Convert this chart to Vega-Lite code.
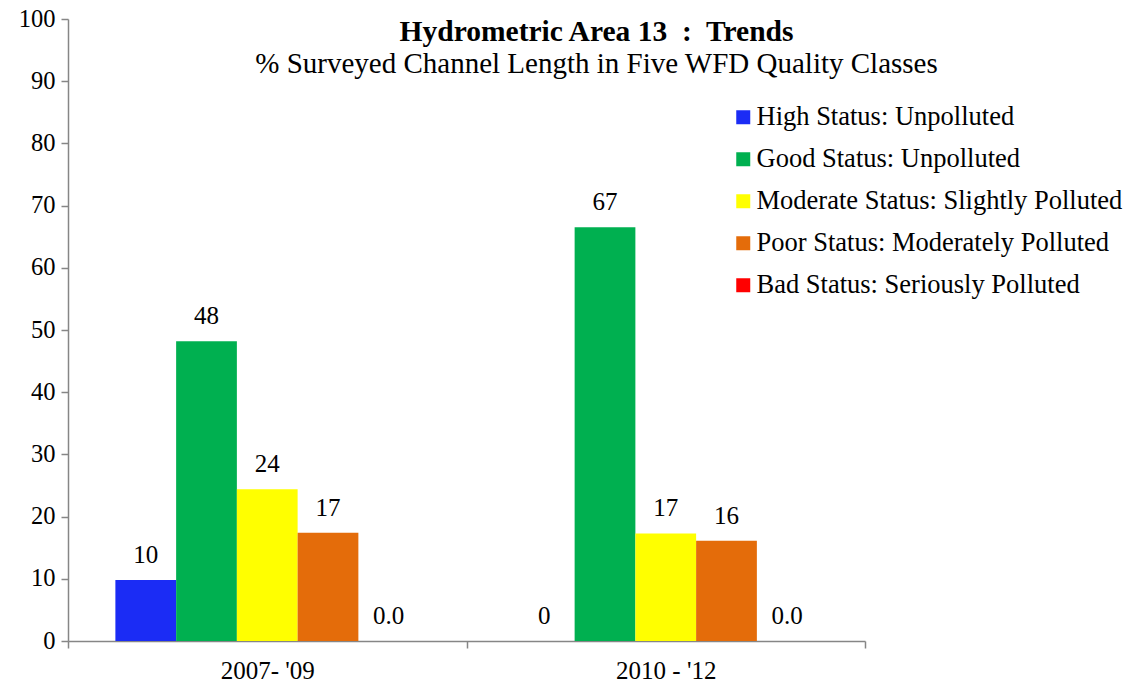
{
  "$schema": "https://vega.github.io/schema/vega-lite/v6.json",
  "width": 797,
  "height": 622,
  "autosize": {"type": "none"},
  "padding": {"left": 68, "top": 19, "right": 266, "bottom": 47},
  "background": "white",
  "config": {"view": {"stroke": null}, "font": "'Liberation Serif', 'Times New Roman', serif"},
  "title": {
    "text": "Hydrometric Area 13\u00a0 :\u00a0 Trends",
    "subtitle": "% Surveyed Channel Length in Five WFD Quality Classes",
    "font": "'Liberation Serif', 'Times New Roman', serif",
    "fontSize": 29.5,
    "fontWeight": "bold",
    "color": "black",
    "subtitleFont": "'Liberation Serif', 'Times New Roman', serif",
    "subtitleFontSize": 29,
    "subtitleColor": "black",
    "subtitlePadding": 3,
    "anchor": "middle",
    "frame": "group",
    "dx": 130,
    "offset": -74
  },
  "data": {
    "values": [
      {"period": "2007- '09", "status": "High Status: Unpolluted", "value": 9.8, "label": "10"},
      {"period": "2007- '09", "status": "Good Status: Unpolluted", "value": 48.2, "label": "48"},
      {"period": "2007- '09", "status": "Moderate Status: Slightly Polluted", "value": 24.4, "label": "24"},
      {"period": "2007- '09", "status": "Poor Status: Moderately Polluted", "value": 17.4, "label": "17"},
      {"period": "2007- '09", "status": "Bad Status: Seriously Polluted", "value": 0, "label": "0.0"},
      {"period": "2010 - '12", "status": "High Status: Unpolluted", "value": 0, "label": "0"},
      {"period": "2010 - '12", "status": "Good Status: Unpolluted", "value": 66.5, "label": "67"},
      {"period": "2010 - '12", "status": "Moderate Status: Slightly Polluted", "value": 17.3, "label": "17"},
      {"period": "2010 - '12", "status": "Poor Status: Moderately Polluted", "value": 16.1, "label": "16"},
      {"period": "2010 - '12", "status": "Bad Status: Seriously Polluted", "value": 0, "label": "0.0"}
    ]
  },
  "encoding": {
    "x": {
      "field": "period",
      "type": "nominal",
      "sort": null,
      "scale": {"paddingInner": 0, "paddingOuter": 0},
      "axis": {
        "title": null,
        "labelAngle": 0,
        "labelFont": "'Liberation Serif', 'Times New Roman', serif",
        "labelFontSize": 25,
        "labelColor": "black",
        "labelPadding": 10,
        "tickBand": "extent",
        "tickSize": 7,
        "tickColor": "#868686",
        "domainColor": "#868686",
        "domainWidth": 1.5,
        "tickWidth": 1.5
      }
    },
    "xOffset": {
      "field": "status",
      "type": "nominal",
      "sort": null,
      "scale": {"paddingInner": 0, "paddingOuter": 0.78}
    },
    "y": {
      "field": "value",
      "type": "quantitative",
      "scale": {"domain": [0, 100], "nice": false},
      "axis": {
        "title": null,
        "grid": false,
        "values": [0, 10, 20, 30, 40, 50, 60, 70, 80, 90, 100],
        "labelFont": "'Liberation Serif', 'Times New Roman', serif",
        "labelFontSize": 24.5,
        "labelColor": "black",
        "labelPadding": 6,
        "tickSize": 7,
        "tickColor": "#868686",
        "domainColor": "#868686",
        "domainWidth": 1.5,
        "tickWidth": 1.5
      }
    }
  },
  "layer": [
    {
      "mark": {"type": "bar"},
      "encoding": {
        "color": {
          "field": "status",
          "type": "nominal",
          "sort": null,
          "scale": {
            "domain": ["High Status: Unpolluted", "Good Status: Unpolluted", "Moderate Status: Slightly Polluted", "Poor Status: Moderately Polluted", "Bad Status: Seriously Polluted"],
            "range": ["#1B2CF5", "#00B050", "#FFFF00", "#E46C0A", "#FF0000"]
          },
          "legend": {
            "title": null,
            "orient": "none",
            "legendX": 662,
            "legendY": 85,
            "symbolType": "square",
            "symbolSize": 196,
            "symbolStrokeWidth": 0,
            "labelFont": "'Liberation Serif', 'Times New Roman', serif",
            "labelFontSize": 26.5,
            "labelColor": "black",
            "labelLimit": 0,
            "labelOffset": 0,
            "rowPadding": 15,
            "padding": 0
          }
        }
      }
    },
    {
      "mark": {"type": "text", "baseline": "bottom", "dy": -12, "font": "'Liberation Serif', 'Times New Roman', serif", "fontSize": 25, "color": "black"},
      "encoding": {"text": {"field": "label"}}
    }
  ]
}
